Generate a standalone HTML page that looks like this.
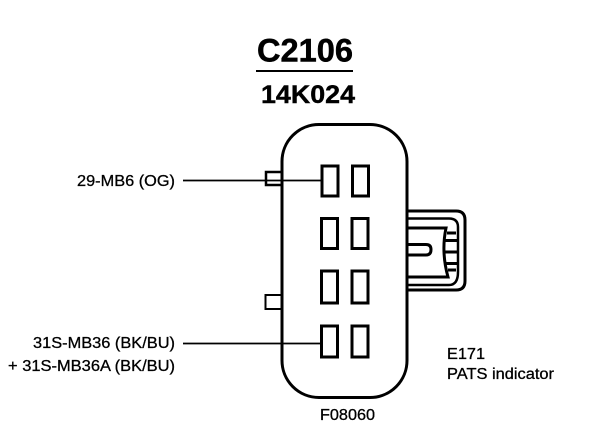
<!DOCTYPE html>
<html>
<head>
<meta charset="utf-8">
<style>
html,body{margin:0;padding:0;background:#fff}
svg{display:block}
text{font-family:"Liberation Sans",sans-serif;fill:#000}
.s{font-size:15.5px;stroke:#000;stroke-width:.3px}
</style>
</head>
<body>
<svg width="608" height="428" viewBox="0 0 608 428" xmlns="http://www.w3.org/2000/svg">
<rect width="608" height="428" fill="#fff"/>
<text x="257" y="61.500" font-size="32" font-weight="bold" textLength="96" lengthAdjust="spacingAndGlyphs" stroke="#000" stroke-width=".5">C2106</text>
<rect x="256" y="70" width="97" height="2" fill="#000"/>
<text x="261" y="103" font-size="25" font-weight="bold" textLength="94" lengthAdjust="spacingAndGlyphs" stroke="#000" stroke-width=".4">14K024</text>

<g fill="none" stroke="#000" stroke-width="3">
<rect x="282" y="124.500" width="125" height="273" rx="37" ry="37"/>
<rect x="266" y="172" width="16" height="13" stroke-width="2.500"/>
<rect x="265.500" y="295" width="16" height="14" stroke-width="2"/>
<rect x="322" y="166" width="16" height="30"/>
<rect x="352.500" y="166" width="16" height="30"/>
<rect x="321.500" y="218.500" width="16" height="30"/>
<rect x="352" y="218.500" width="16" height="30"/>
<rect x="321.500" y="271" width="16" height="32"/>
<rect x="352" y="271" width="16" height="32"/>
<rect x="321.500" y="326" width="16" height="31"/>
<rect x="352" y="326" width="16" height="31"/>
<path d="M407 211H456Q465 211 465 220V281Q465 290 456 290H407"/>
<path d="M407 218.500H449Q458 218.500 458 227V272Q458 285 449 285H407" stroke-width="2.500"/>
<path d="M407 228H446Q441 252 448 277H407" stroke-width="3"/>
<path d="M407 244.500H426Q431 244.500 431 249.500Q431 255 426 255H407" stroke-width="3"/>
<path d="M447 233H456M445 240.500H457M445 252H457M445 263.500H457M448 270H456" stroke-width="3"/>
</g>
<path d="M183 180.500H321M183 343.500H321" stroke="#000" stroke-width="1.800"/>

<text class="s" x="77" y="186" textLength="98" lengthAdjust="spacingAndGlyphs">29-MB6 (OG)</text>
<text class="s" x="33" y="348" textLength="142" lengthAdjust="spacingAndGlyphs">31S-MB36 (BK/BU)</text>
<text class="s" x="8" y="371" textLength="167" lengthAdjust="spacingAndGlyphs">+ 31S-MB36A (BK/BU)</text>
<text class="s" x="447" y="359" textLength="38" lengthAdjust="spacingAndGlyphs">E171</text>
<text class="s" x="447" y="379" textLength="107" lengthAdjust="spacingAndGlyphs">PATS indicator</text>
<text class="s" x="320" y="420" textLength="55" lengthAdjust="spacingAndGlyphs">F08060</text>
</svg>
</body>
</html>
